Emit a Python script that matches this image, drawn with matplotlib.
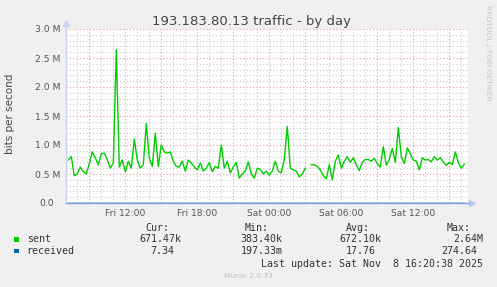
import matplotlib
matplotlib.use("Agg")
import matplotlib.pyplot as plt
import matplotlib.dates as mdates
import matplotlib.ticker as mticker
from matplotlib.patches import Rectangle
from matplotlib.transforms import ScaledTranslation
import numpy as np
import pandas as pd

W, H = 497, 287

title = "193.183.80.13 traffic - by day"
ylabel = "bits per second"

# sent traffic in Mbit/s, 15-minute samples from Fri 07:15
sent_mbps = [
    0.74, 0.80, 0.47, 0.50, 0.62, 0.54, 0.50, 0.68, 0.88, 0.78,
    0.66, 0.85, 0.86, 0.75, 0.60, 0.69, 2.64, 0.62, 0.74, 0.54,
    0.72, 0.60, 1.10, 0.74, 0.60, 0.66, 1.37, 0.77, 0.63, 1.20,
    0.63, 1.00, 0.88, 0.86, 0.88, 0.72, 0.63, 0.62, 0.72, 0.55,
    0.74, 0.69, 0.62, 0.57, 0.69, 0.55, 0.60, 0.70, 0.54, 0.63,
    0.60, 1.00, 0.60, 0.72, 0.52, 0.62, 0.70, 0.43, 0.50, 0.55,
    0.71, 0.50, 0.43, 0.60, 0.58, 0.50, 0.55, 0.48, 0.55, 0.72,
    0.55, 0.52, 0.75, 1.32, 0.60, 0.57, 0.55, 0.45, 0.50, 0.60,
    np.nan, 0.66, 0.66, 0.63, 0.57, 0.47, 0.42, 0.66, 0.40, 0.72,
    0.83, 0.60, 0.72, 0.80, 0.70, 0.78, 0.66, 0.56, 0.70, 0.75,
    0.75, 0.72, 0.77, 0.68, 0.62, 0.97, 0.65, 0.75, 0.94, 0.70,
    1.30, 0.80, 0.68, 0.95, 0.85, 0.74, 0.72, 0.57, 0.78, 0.74,
    0.75, 0.71, 0.80, 0.74, 0.78, 0.71, 0.65, 0.70, 0.66, 0.88,
    0.70, 0.60, 0.67,
]
sent_times = pd.date_range("2025-11-07 07:15", periods=len(sent_mbps), freq="15min")

# received traffic in bit/s (tiny, near zero on this scale)
received_bps = [5.2, 17.0, 274.64, 12.3, 0.2, 9.8, 20.1, 7.34]
received_times = pd.to_datetime([
    "2025-11-07 07:15", "2025-11-07 12:00", "2025-11-07 16:00", "2025-11-07 21:00",
    "2025-11-08 02:00", "2025-11-08 07:00", "2025-11-08 12:00", "2025-11-08 16:15",
])

ytick_values = [0.0, 0.5, 1.0, 1.5, 2.0, 2.5, 3.0]
ytick_labels = ["0.0", "0.5 M", "1.0 M", "1.5 M", "2.0 M", "2.5 M", "3.0 M"]

legend_names = ["sent", "received"]
legend_colors = ["#00cc00", "#0066b3"]
col_headers = ["Cur:", "Min:", "Avg:", "Max:"]
cur_vals = ["671.47k", "7.34"]
min_vals = ["383.40k", "197.33m"]
avg_vals = ["672.10k", "17.76"]
max_vals = ["2.64M", "274.64"]
last_update = "Last update: Sat Nov  8 16:20:38 2025"
footer = "Munin 2.0.73"
side_text = "RRDTOOL / TOBI OETIKER"

x_start = pd.Timestamp("2025-11-07 07:03:30")
x_end = pd.Timestamp("2025-11-08 16:33:30")

BG = "#f0f0f0"
fig = plt.figure(figsize=(W / 100, H / 100), dpi=100, facecolor=BG)
ax = fig.add_axes([66 / W, 1 - 203 / H, (468 - 66) / W, (203 - 29) / H])
ax.set_facecolor("white")


def fx(px):
    return px / W


def fy(py):
    return 1 - py / H


ax.plot(sent_times, sent_mbps, color=legend_colors[0], lw=1.0, zorder=3)
ax.plot(received_times, np.array(received_bps) / 1e6, color=legend_colors[1], lw=0.7,
        alpha=0.6, zorder=2, clip_on=False)

ax.set_xlim(x_start, x_end)
ax.set_ylim(0, 3.0)

# grids
ax.xaxis.set_major_locator(mdates.HourLocator(byhour=range(0, 24, 3)))
ax.xaxis.set_minor_locator(mdates.HourLocator())


def xfmt(v, pos):
    d = mdates.num2date(v)
    if d.hour % 6 == 0:
        return d.strftime("%a %H:%M")
    return ""


ax.xaxis.set_major_formatter(mticker.FuncFormatter(xfmt))
ax.set_yticks(ytick_values)
ax.set_yticklabels(ytick_labels)
ax.yaxis.set_minor_locator(mticker.MultipleLocator(0.1))

ax.grid(which="minor", color="#c8c8c8", linestyle=(0, (1, 2)), lw=0.8, zorder=0)
ax.grid(which="major", color="#e69a9a", linestyle=(0, (1, 2)), lw=0.8, zorder=1)
ax.set_axisbelow(True)

ax.tick_params(which="both", length=0)
ax.tick_params(axis="y", pad=4.3, labelsize=6.7, labelcolor="#555555")
ax.tick_params(axis="x", pad=4.5, labelsize=6.6, labelcolor="#555555")

# shift the "0.0" label like rrdtool does
for lab in ax.get_yticklabels():
    if lab.get_text() == "0.0":
        lab.set_transform(lab.get_transform() + ScaledTranslation(-6 / 100, 0, fig.dpi_scale_trans))

for s in ["top", "right"]:
    ax.spines[s].set_visible(False)
ax.spines["left"].set_color("#cdd5f5")
ax.spines["bottom"].set_color("#7f9fd8")
ax.spines["left"].set_linewidth(1.0)
ax.spines["bottom"].set_linewidth(1.0)
# axis extensions and arrows
ax.plot([0, 0], [1.0, 1.035], transform=ax.transAxes, color="#cdd5f5", lw=1.0, clip_on=False)
ax.plot([0], [1.035], transform=ax.transAxes, marker="^", ms=4, color="#cdd5f5", clip_on=False)
ax.plot([1.0, 1.01], [0, 0], transform=ax.transAxes, color="#8fa3dc", lw=1.0, clip_on=False)
ax.plot([1.01], [0], transform=ax.transAxes, marker=">", ms=4, color="#b8c6f0", clip_on=False)

# title and labels
fig.text(fx(251), fy(25), title, ha="center", va="baseline", fontsize=9.5, color="#444444")
fig.text(fx(10), fy(114), ylabel, ha="center", va="center", rotation=90, fontsize=7.5, color="#444444")
fig.text(fx(488), fy(53), side_text, ha="center", va="center", rotation=270, fontsize=5.4, color="#c4c4c4")

# legend block
mono = "DejaVu Sans Mono"
tc = "#333333"
fs = 7.2
header_x = [145, 245, 346, 447]
col_right = [181, 282.7, 381.7, 483.3]
for hx, h in zip(header_x, col_headers):
    fig.text(fx(hx), fy(227.7), h, ha="left", va="center", family=mono, fontsize=fs, color=tc)

rows_y = [239.3, 251]
for i, name in enumerate(legend_names):
    yc = rows_y[i]
    fig.patches.append(Rectangle((fx(14), fy(yc + 2.3)), 5.3 / W, 4.6 / H,
                                 transform=fig.transFigure, facecolor=legend_colors[i],
                                 edgecolor="none"))
    fig.text(fx(26.7), fy(yc), name, ha="left", va="center", family=mono, fontsize=fs, color=tc)
    for cx, vals in zip(col_right, [cur_vals, min_vals, avg_vals, max_vals]):
        v = vals[i]
        xr = cx if v[-1].isalpha() else cx - 6.2
        fig.text(fx(xr), fy(yc), v, ha="right", va="center", family=mono, fontsize=fs, color=tc)

fig.text(fx(482.7), fy(263.7), last_update, ha="right", va="center", family=mono, fontsize=fs, color=tc)
fig.text(fx(248), fy(276), footer, ha="center", va="center", fontsize=5.4, color="#c0c0c0")

fig.savefig("out.png", dpi=100, facecolor=BG)
